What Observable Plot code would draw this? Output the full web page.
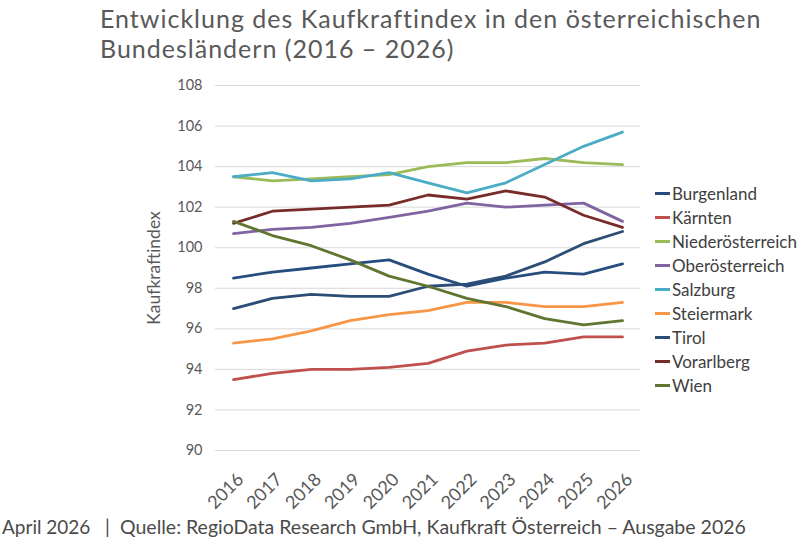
<!DOCTYPE html>
<html>
<head>
<meta charset="utf-8">
<script src="https://cdn.jsdelivr.net/npm/d3@7"></script>
<script src="https://cdn.jsdelivr.net/npm/@observablehq/plot@0.6"></script>
<style>
  html, body { margin: 0; padding: 0; background: #fff; }
  #wrap { position: relative; width: 800px; height: 543px; overflow: hidden; font-family: Lato, "Open Sans", sans-serif; color: #595959; }
  .tline { position: absolute; left: 100px; font-size: 25px; line-height: 30px; letter-spacing: 1px; color: #595959; white-space: nowrap; }
  #caption { position: absolute; left: 0px; top: 515px; color: #4a4a4a; white-space: nowrap; }
  #caption span { position: absolute; top: 0; }
  #chart { position: absolute; left: 0; top: 0; }
  #legend { position: absolute; left: 655px; top: 181px; font-size: 17px; color: #404040; }
  .item { height: 24px; display: flex; align-items: center; white-space: nowrap; }
  .sw { width: 15px; height: 3px; margin-right: 2px; }
</style>
</head>
<body>
<div id="wrap">
  <div id="chart"></div>
  <div class="tline" style="top:3px">Entwicklung des Kaufkraftindex in den österreichischen</div>
  <div class="tline" style="top:33px">Bundesländern (2016 – 2026)</div>
  <div id="legend"></div>
  <div id="caption"><span style="left:2px;font-size:19px">April 2026</span><span style="left:105px;font-size:19px">|</span><span style="left:120px;font-size:19.5px">Quelle: RegioData Research GmbH, Kaufkraft Österreich – Ausgabe 2026</span></div>
</div>
<script>
const years = [2016, 2017, 2018, 2019, 2020, 2021, 2022, 2023, 2024, 2025, 2026];
const regions = ["Burgenland", "Kärnten", "Niederösterreich", "Oberösterreich", "Salzburg", "Steiermark", "Tirol", "Vorarlberg", "Wien"];
const colors = ["#264D7E", "#C0504D", "#9BBB59", "#8064A2", "#4BACC6", "#F79646", "#2C4D75", "#772C2A", "#5F7530"];

const burgenland       = [98.5, 98.8, 99.0, 99.2, 99.4, 98.7, 98.1, 98.5, 98.8, 98.7, 99.2];
const kaernten         = [93.5, 93.8, 94.0, 94.0, 94.1, 94.3, 94.9, 95.2, 95.3, 95.6, 95.6];
const niederoesterreich= [103.5, 103.3, 103.4, 103.5, 103.6, 104.0, 104.2, 104.2, 104.4, 104.2, 104.1];
const oberoesterreich  = [100.7, 100.9, 101.0, 101.2, 101.5, 101.8, 102.2, 102.0, 102.1, 102.2, 101.3];
const salzburg         = [103.5, 103.7, 103.3, 103.4, 103.7, 103.2, 102.7, 103.2, 104.1, 105.0, 105.7];
const steiermark       = [95.3, 95.5, 95.9, 96.4, 96.7, 96.9, 97.3, 97.3, 97.1, 97.1, 97.3];
const tirol            = [97.0, 97.5, 97.7, 97.6, 97.6, 98.1, 98.2, 98.6, 99.3, 100.2, 100.8];
const vorarlberg       = [101.2, 101.8, 101.9, 102.0, 102.1, 102.6, 102.4, 102.8, 102.5, 101.6, 101.0];
const wien             = [101.3, 100.6, 100.1, 99.4, 98.6, 98.1, 97.5, 97.1, 96.5, 96.2, 96.4];

const yTicks = [90, 92, 94, 96, 98, 100, 102, 104, 106, 108];

const series = [burgenland, kaernten, niederoesterreich, oberoesterreich, salzburg, steiermark, tirol, vorarlberg, wien];
const data = [];
regions.forEach((r, i) => years.forEach((y, j) => data.push({region: r, year: y, value: series[i][j]})));

const chart = Plot.plot({
  width: 800,
  height: 543,
  marginLeft: 215,
  marginRight: 160,
  marginTop: 85,
  marginBottom: 93,
  style: {fontFamily: "Lato, 'Open Sans', sans-serif", color: "#595959", background: "transparent"},
  x: {domain: [2016, 2026], insetLeft: 18, insetRight: 18},
  y: {domain: [90, 108]},
  color: {domain: regions, range: colors},
  marks: [
    Plot.ruleY(yTicks, {stroke: "#d9d9d9", strokeWidth: 1}),
    Plot.axisY({ticks: yTicks, tickSize: 0, tickPadding: 13, fontSize: 14.5, fill: "#595959", label: null}),
    Plot.axisX({ticks: years, tickFormat: d => String(d), tickSize: 0, rotate: -45, textAnchor: "end", dx: 2, dy: 12, fontSize: 18, fill: "#595959", label: null}),
    Plot.text(["Kaufkraftindex"], {frameAnchor: "left", textAnchor: "middle", dx: -61, rotate: -90, fontSize: 17.5, fill: "#595959"}),
    Plot.line(data, {x: "year", y: "value", z: "region", stroke: "region", strokeWidth: 2.8, curve: "linear"})
  ]
});
document.getElementById("chart").appendChild(chart);

const legend = document.getElementById("legend");
regions.forEach((r, i) => {
  const it = document.createElement("div");
  it.className = "item";
  const sw = document.createElement("span");
  sw.className = "sw";
  sw.style.background = colors[i];
  const tx = document.createElement("span");
  tx.textContent = r;
  it.appendChild(sw); it.appendChild(tx);
  legend.appendChild(it);
});
</script>
</body>
</html>
